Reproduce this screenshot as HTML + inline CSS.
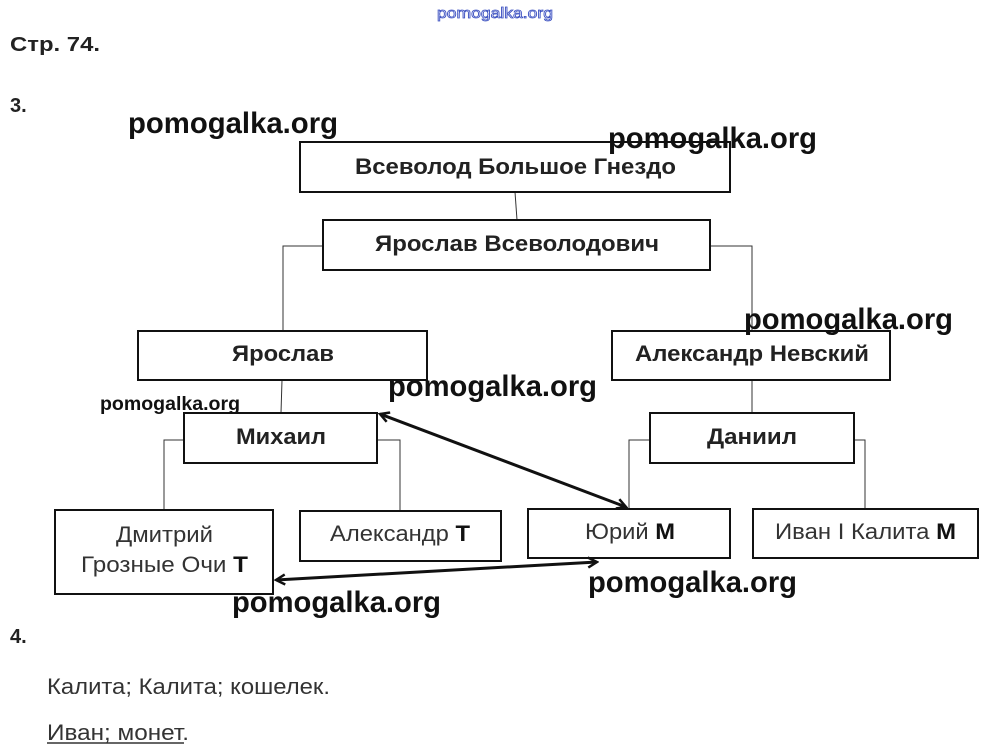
<!DOCTYPE html>
<html><head><meta charset="utf-8"><style>
body{margin:0;background:#fff;}
svg{display:block}
text{font-family:"Liberation Sans",sans-serif;}
</style></head><body>
<svg width="988" height="756" viewBox="0 0 988 756" xmlns="http://www.w3.org/2000/svg">
<defs><marker id="a" markerWidth="12" markerHeight="12" refX="10" refY="6" orient="auto-start-reverse" markerUnits="userSpaceOnUse"><path d="M1,1 L10,6 L1,11" fill="none" stroke="#111" stroke-width="2.5"/></marker></defs>
<text x="437" y="18" font-size="15" fill="#fff" stroke="#3a4fc0" stroke-width="0.8" textLength="116" lengthAdjust="spacingAndGlyphs">pomogalka.org</text>
<text x="10" y="51" font-size="20" font-weight="bold" fill="#222" textLength="90" lengthAdjust="spacingAndGlyphs">Стр. 74.</text>
<text x="10" y="112" font-size="20" font-weight="bold" fill="#222">3.</text>
<g fill="none" stroke="#333" stroke-width="1">
<path d="M515,192 L517,220"/>
<path d="M323,246 H283 V331"/><path d="M710,246 H752 V331"/>
<path d="M282,380 L281,413"/><path d="M752,380 V413"/>
<path d="M184,440 H164 V510"/><path d="M377,440 H400 V511"/>
<path d="M650,440 H629 V509"/><path d="M854,440 H865 V509"/>
</g>
<g fill="#fff" stroke="#111" stroke-width="2">
<rect x="300" y="142" width="430" height="50"/>
<rect x="323" y="220" width="387" height="50"/>
<rect x="138" y="331" width="289" height="49"/>
<rect x="612" y="331" width="278" height="49"/>
<rect x="184" y="413" width="193" height="50"/>
<rect x="650" y="413" width="204" height="50"/>
<rect x="55" y="510" width="218" height="84"/>
<rect x="300" y="511" width="201" height="50"/>
<rect x="528" y="509" width="202" height="49"/>
<rect x="753" y="509" width="225" height="49"/>
</g>
<g font-size="22" font-weight="bold" fill="#222" lengthAdjust="spacingAndGlyphs">
<text x="355" y="174" textLength="321" lengthAdjust="spacingAndGlyphs">Всеволод Большое Гнездо</text>
<text x="375" y="251" textLength="284" lengthAdjust="spacingAndGlyphs">Ярослав Всеволодович</text>
<text x="232" y="361" textLength="102" lengthAdjust="spacingAndGlyphs">Ярослав</text>
<text x="635" y="361" textLength="234" lengthAdjust="spacingAndGlyphs">Александр Невский</text>
<text x="236" y="444" textLength="90" lengthAdjust="spacingAndGlyphs">Михаил</text>
<text x="707" y="444" textLength="90" lengthAdjust="spacingAndGlyphs">Даниил</text>
</g>
<g font-size="22" fill="#333">
<text x="116" y="542" textLength="97" lengthAdjust="spacingAndGlyphs">Дмитрий</text>
<text x="81" y="572" textLength="167" lengthAdjust="spacingAndGlyphs">Грозные Очи <tspan font-weight="bold" fill="#111">Т</tspan></text>
<text x="330" y="541" textLength="140" lengthAdjust="spacingAndGlyphs">Александр <tspan font-weight="bold" fill="#111">Т</tspan></text>
<text x="585" y="539" textLength="90" lengthAdjust="spacingAndGlyphs">Юрий <tspan font-weight="bold" fill="#111">М</tspan></text>
<text x="775" y="539" textLength="181" lengthAdjust="spacingAndGlyphs">Иван I Калита <tspan font-weight="bold" fill="#111">М</tspan></text>
</g>
<g stroke="#111" stroke-width="3" fill="none">
<line x1="380" y1="414" x2="626" y2="507" marker-start="url(#a)" marker-end="url(#a)"/>
<line x1="276" y1="580" x2="597" y2="562" marker-start="url(#a)" marker-end="url(#a)"/>
</g>
<g font-weight="bold" fill="#111">
<text x="128" y="133" font-size="30" textLength="210" lengthAdjust="spacingAndGlyphs">pomogalka.org</text>
<text x="608" y="148" font-size="30" textLength="209" lengthAdjust="spacingAndGlyphs">pomogalka.org</text>
<text x="744" y="329" font-size="30" textLength="209" lengthAdjust="spacingAndGlyphs">pomogalka.org</text>
<text x="388" y="396" font-size="30" textLength="209" lengthAdjust="spacingAndGlyphs">pomogalka.org</text>
<text x="100" y="410" font-size="19" textLength="140" lengthAdjust="spacingAndGlyphs">pomogalka.org</text>
<text x="588" y="592" font-size="30" textLength="209" lengthAdjust="spacingAndGlyphs">pomogalka.org</text>
<text x="232" y="612" font-size="30" textLength="209" lengthAdjust="spacingAndGlyphs">pomogalka.org</text>
</g>
<text x="10" y="643" font-size="20" font-weight="bold" fill="#222">4.</text>
<text x="47" y="694" font-size="22" fill="#333" textLength="283" lengthAdjust="spacingAndGlyphs">Калита; Калита; кошелек.</text>
<text x="47" y="740" font-size="22" fill="#333" textLength="142" lengthAdjust="spacingAndGlyphs">Иван; монет.</text>
<line x1="47" y1="743" x2="184" y2="743" stroke="#333" stroke-width="1.5"/>
</svg>
</body></html>
